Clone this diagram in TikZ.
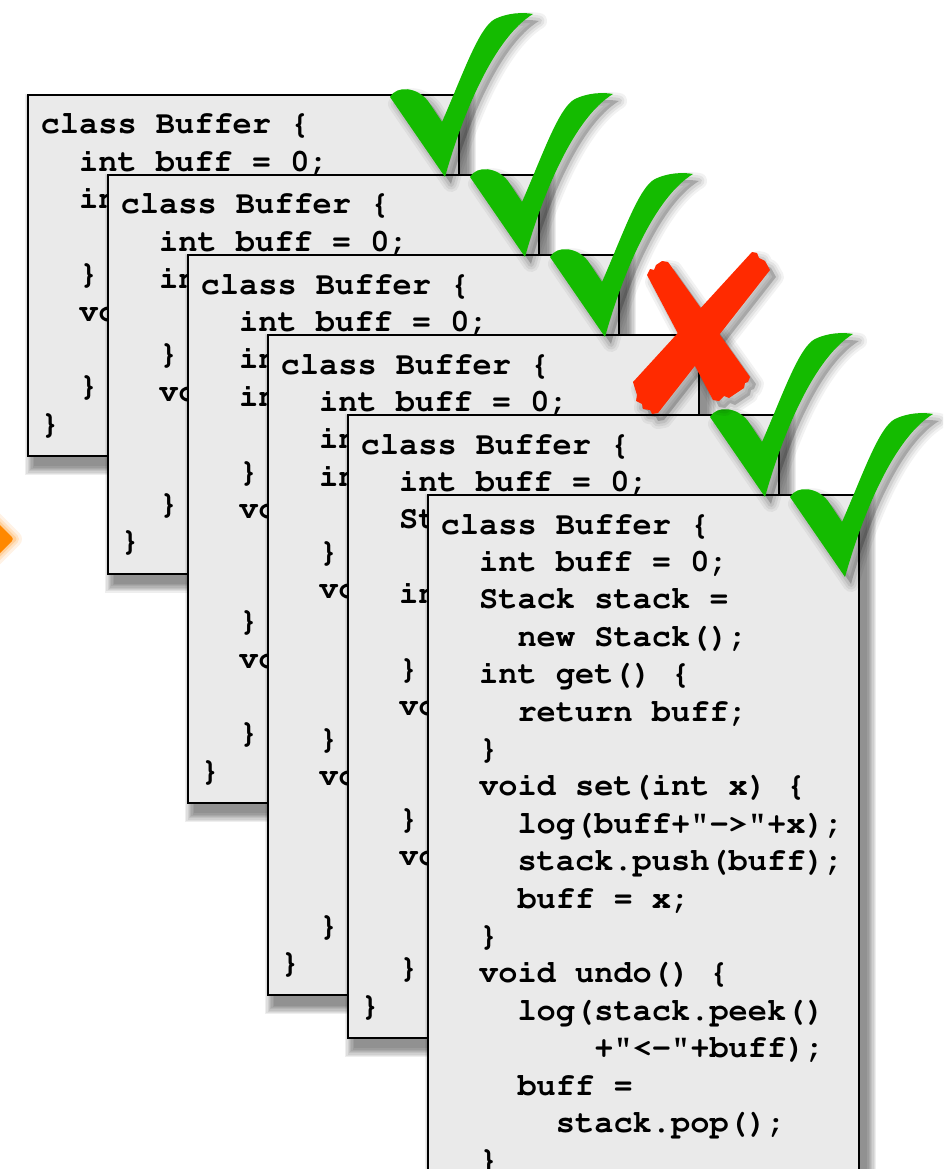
\documentclass[tikz,border=0pt]{standalone}
\usepackage[T1]{fontenc}
\definecolor{cardfill}{RGB}{234,234,234}
\definecolor{checkgreen}{RGB}{20,187,0}
\definecolor{xred}{RGB}{255,42,0}
\definecolor{arroworange}{RGB}{255,136,0}
\newcommand\codefont{\fontfamily{pcr}\fontseries{b}\fontsize{32}{37.4}\selectfont}
\newcommand\checkpath{(0,0) -- (-55,-80) .. controls (-48,-92) and (-28,-90) .. (-17,-76) -- (-3,-55) .. controls (18,-103) and (34,-150) .. (50,-158) .. controls (62,-164) and (78,-165) .. (88,-163) .. controls (50,-140) and (18,-65) .. (0,0) -- cycle}
\newcommand\xpathA{(647,275) -- (650,269) -- (654,270) -- (656,265) -- (662,261) -- (668,262) -- (750,377) -- (748,382) -- (745,383) -- (744,388) -- (729,398) -- (724,396) -- (719,401) -- (713,400) -- cycle}
\newcommand\xpathB{(633,382) -- (752,252) -- (757,253) -- (759,258) -- (765,261) -- (770,270) -- (658,413) -- (652,414) -- (650,410) -- (643,409) -- (642,404) -- (636,401) -- (637,395) -- cycle}
\tikzset{
  cardbox/.style={draw=black, line width=2pt, fill=cardfill, inner sep=0pt},
  codeline/.style={anchor=base west, inner sep=0pt, font=\codefont, text=black},
  checkmark/.pic={
    \begin{scope}[shift={(6,7)}]
      \foreach \w/\o in {16/0.05, 11/0.06, 6/0.08}{
        \draw[black, opacity=\o, line width=\w pt, line join=round] \checkpath;
      }
      \fill[black, opacity=0.2] \checkpath;
    \end{scope}
    \fill[checkgreen] \checkpath;
  },
}
\newcommand\drawcard[5]{%
  \pgfmathsetmacro\cardh{62+(#4-1)*37.4}
  \foreach \r in {1,...,8}{
    \fill[black, opacity=0.065] ({#2+7-\r*1.25},{#3+9-\r*1.25}) rectangle ({#2+431+7+\r*1.25},{#3+\cardh+9+\r*1.25});
  }
  \node[cardbox, minimum width=431pt, minimum height=\cardh pt] (#1) at ({#2+215.5},{#3+\cardh/2}) {};
  \foreach \t [count=\i from 0] in {#5}{
    \node[codeline] (#1l\i) at ({#2+12.5},{#3+39+\i*37.4}) {\t};
  }
}
\begin{document}
\begin{tikzpicture}[x=1pt, y=-1pt]
\useasboundingbox (0,0) rectangle (943,1169);
\fill[white] (0,0) rectangle (943,1169);
\clip (0,0) rectangle (943,1169);
% orange arrow tip at the left edge
\foreach \w/\o in {16/0.10, 10/0.14, 5/0.2}{
  \draw[arroworange, opacity=\o, line width=\w pt, line join=round] (-20,505) -- (14,539) -- (-20,573) -- cycle;
}
\fill[arroworange, rounded corners=3pt] (-20,505) -- (14,539) -- (-20,573) -- cycle;
% cards
\drawcard{card1}{28}{95}{9}{
 {class Buffer \{},
 {\ \ int buff = 0;},
 {\ \ int get() \{},
 {\ \ \ \ return buff;},
 {\ \ \}},
 {\ \ void set(int x) \{},
 {\ \ \ \ buff = x;},
 {\ \ \}},
 {\}}}
\drawcard{card2}{108}{175}{10}{
 {class Buffer \{},
 {\ \ int buff = 0;},
 {\ \ int get() \{},
 {\ \ \ \ return buff;},
 {\ \ \}},
 {\ \ void set(int x) \{},
 {\ \ \ \ log(buff+"->"+x);},
 {\ \ \ \ buff = x;},
 {\ \ \}},
 {\}}}
\drawcard{card3}{188}{255}{14}{
 {class Buffer \{},
 {\ \ int buff = 0;},
 {\ \ int prev = 0;},
 {\ \ int get() \{},
 {\ \ \ \ return buff;},
 {\ \ \}},
 {\ \ void set(int x) \{},
 {\ \ \ \ prev = buff;},
 {\ \ \ \ buff = x;},
 {\ \ \}},
 {\ \ void undo() \{},
 {\ \ \ \ buff = prev;},
 {\ \ \}},
 {\}}}
\drawcard{card4}{268}{335}{17}{
 {class Buffer \{},
 {\ \ int buff = 0;},
 {\ \ int prev = 0;},
 {\ \ int get() \{},
 {\ \ \ \ return buff;},
 {\ \ \}},
 {\ \ void set(int x) \{},
 {\ \ \ \ log(buff+"->"+x);},
 {\ \ \ \ prev = buff;},
 {\ \ \ \ buff = x;},
 {\ \ \}},
 {\ \ void undo() \{},
 {\ \ \ \ log(prev},
 {\ \ \ \ \ \ \ \ +"<-"+buff);},
 {\ \ \ \ buff = prev;},
 {\ \ \}},
 {\}}}
\drawcard{card5}{348}{415}{16}{
 {class Buffer \{},
 {\ \ int buff = 0;},
 {\ \ Stack stack =},
 {\ \ \ \ new Stack();},
 {\ \ int get() \{},
 {\ \ \ \ return buff;},
 {\ \ \}},
 {\ \ void set(int x) \{},
 {\ \ \ \ stack.push(buff);},
 {\ \ \ \ buff = x;},
 {\ \ \}},
 {\ \ void undo() \{},
 {\ \ \ \ buff =},
 {\ \ \ \ \ \ stack.pop();},
 {\ \ \}},
 {\}}}
\drawcard{card6}{428}{495}{19}{
 {class Buffer \{},
 {\ \ int buff = 0;},
 {\ \ Stack stack =},
 {\ \ \ \ new Stack();},
 {\ \ int get() \{},
 {\ \ \ \ return buff;},
 {\ \ \}},
 {\ \ void set(int x) \{},
 {\ \ \ \ log(buff+"->"+x);},
 {\ \ \ \ stack.push(buff);},
 {\ \ \ \ buff = x;},
 {\ \ \}},
 {\ \ void undo() \{},
 {\ \ \ \ log(stack.peek()},
 {\ \ \ \ \ \ \ \ +"<-"+buff);},
 {\ \ \ \ buff =},
 {\ \ \ \ \ \ stack.pop();},
 {\ \ \}},
 {\}}}
% check marks
\pic (ck1) at (445,177) {checkmark};
\pic (ck2) at (525,257) {checkmark};
\pic (ck3) at (605,337) {checkmark};
\pic (ck5) at (765,497) {checkmark};
\pic (ck6) at (845,577) {checkmark};
% red cross
\begin{scope}[shift={(6,7)}]
  \foreach \w/\o in {16/0.05, 11/0.06, 6/0.08}{
    \draw[black, opacity=\o, line width=\w pt, line join=round] \xpathA;
    \draw[black, opacity=\o, line width=\w pt, line join=round] \xpathB;
  }
  \fill[black, opacity=0.2] \xpathA;
  \fill[black, opacity=0.2] \xpathB;
\end{scope}
\fill[xred] \xpathA;
\fill[xred] \xpathB;
\end{tikzpicture}
\end{document}
